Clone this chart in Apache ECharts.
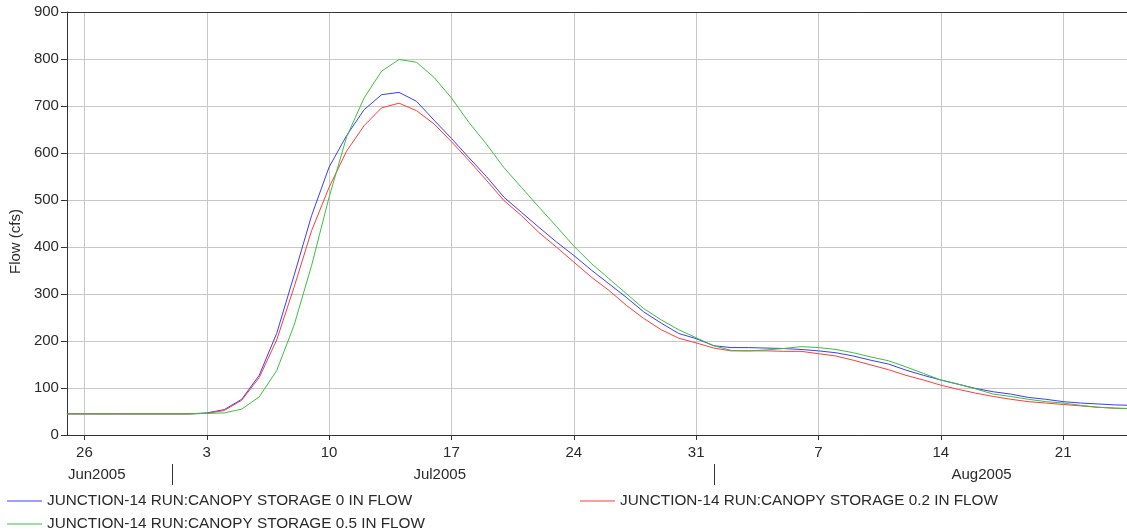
<!DOCTYPE html>
<html><head><meta charset="utf-8">
<script src="https://cdn.jsdelivr.net/npm/echarts@6/dist/echarts.min.js"></script>
<style>html,body{margin:0;padding:0;background:#fff}#c{width:1127px;height:531px}</style>
</head><body><div id="c"></div>
<script>
const dates = [
 '2005-06-25','2005-06-26','2005-06-27','2005-06-28','2005-06-29','2005-06-30',
 '2005-07-01','2005-07-02','2005-07-03','2005-07-04','2005-07-05','2005-07-06','2005-07-07','2005-07-08','2005-07-09','2005-07-10',
 '2005-07-11','2005-07-12','2005-07-13','2005-07-14','2005-07-15','2005-07-16','2005-07-17','2005-07-18','2005-07-19','2005-07-20',
 '2005-07-21','2005-07-22','2005-07-23','2005-07-24','2005-07-25','2005-07-26','2005-07-27','2005-07-28','2005-07-29','2005-07-30','2005-07-31',
 '2005-08-01','2005-08-02','2005-08-03','2005-08-04','2005-08-05','2005-08-06','2005-08-07','2005-08-08','2005-08-09','2005-08-10',
 '2005-08-11','2005-08-12','2005-08-13','2005-08-14','2005-08-15','2005-08-16','2005-08-17','2005-08-18','2005-08-19','2005-08-20',
 '2005-08-21','2005-08-22','2005-08-23','2005-08-24','2005-08-25'
];
const seriesNames = [
 'JUNCTION-14 RUN:CANOPY STORAGE 0 IN FLOW',
 'JUNCTION-14 RUN:CANOPY STORAGE 0.2 IN FLOW',
 'JUNCTION-14 RUN:CANOPY STORAGE 0.5 IN FLOW'
];
const flow0 = [45,45,45,45,45,45,45,45,47,54,76,127,216,340,467,570,637,692,724,729,710,670,631,590,550,506,474,442,411,382,351,322,293,262,238,216,205,
 190,186,186,185,184,182,179,175,168,159,151,138,127,117,108,99,92,87,80,76,71,68,66,64,63];
const flow02 = [45,45,45,45,45,45,45,45,46,52,74,122,202,315,435,527,604,658,696,706,690,662,624,584,542,499,467,431,400,368,336,308,276,248,224,206,196,
 185,179,179,179,178,178,173,168,159,149,139,127,117,106,97,89,82,76,71,68,65,62,59,57,56];
const flow05 = [45,45,45,45,45,45,45,45,46,47,55,81,137,234,361,506,634,717,774,799,793,761,717,665,619,569,527,485,444,402,365,333,301,269,245,224,207,
 190,180,179,181,184,188,186,182,175,166,158,145,131,117,108,98,87,82,76,71,68,63,59,57,56];
const weekTicks = ['2005-06-26','2005-07-03','2005-07-10','2005-07-17','2005-07-24','2005-07-31','2005-08-07','2005-08-14','2005-08-21'];
const monthLabels = ['Jun2005','Jul2005','Aug2005'];
const monthBounds = ['2005-06-01','2005-07-01','2005-08-01','2005-09-01'];
const seriesColors = ['#3c3cff','#ff3c3c','#3cc03c'];

const DAY = 86400000;
function ts(s){const p=s.split('-');return Date.UTC(+p[0],+p[1]-1,+p[2]);}
const T0 = ts(dates[0]);
function dayOf(s){return (ts(s)-T0)/DAY;}
const xMin = 0;
const xMax = 60.65;
const FONT = '"Liberation Sans", Arial, sans-serif';
const TXT = '#2a2a2a';

const flows = [flow0, flow02, flow05];
const series = flows.map((f,k)=>({
  name: seriesNames[k], type:'line', symbol:'none', showSymbol:false,
  data: dates.map((d,i)=>[dayOf(d), f[i]]),
  lineStyle:{width:1, color:seriesColors[k]}, itemStyle:{color:seriesColors[k]},
  animation:false, silent:true
}));

const legendBase = {orient:'horizontal', padding:0, icon:'rect', itemWidth:35, itemHeight:1, itemGap:10,
  textStyle:{fontFamily:FONT, fontSize:15.3, color:TXT, lineHeight:18}, selectedMode:false};

const tickVals = weekTicks.map(dayOf);
const option = {
  animation:false,
  grid:{left:66, top:12, right:0, bottom:96, containLabel:false},
  xAxis:[{
    type:'value', min:xMin, max:xMax,
    axisLine:{show:true, onZero:false, lineStyle:{color:'#333', width:1}},
    axisTick:{show:true, length:5, lineStyle:{color:'#333'}, customValues: tickVals},
    axisLabel:{show:true, margin:10, fontFamily:FONT, fontSize:15, color:TXT,
      customValues: tickVals,
      formatter:v=>{const d=new Date(T0+Math.round(v)*DAY);return String(d.getUTCDate());}},
    splitLine:{show:true, lineStyle:{color:'#c8c8c8', width:1}}
  },{
    type:'value', min:xMin, max:xMax, position:'top',
    axisLine:{show:true, onZero:false, lineStyle:{color:'#333', width:1}},
    axisTick:{show:false}, axisLabel:{show:false}, splitLine:{show:false}
  }],
  yAxis:{
    type:'value', min:0, max:900, interval:100,
    name:'Flow (cfs)', nameLocation:'middle', nameRotate:90, nameGap:43,
    nameTextStyle:{fontFamily:FONT, fontSize:15, color:TXT, padding:[0,36,0,0]},
    axisLine:{show:true, lineStyle:{color:'#333', width:1}},
    axisTick:{show:true, length:6, lineStyle:{color:'#333'}},
    axisLabel:{margin:8, fontFamily:FONT, fontSize:15, color:TXT},
    splitLine:{show:true, lineStyle:{color:'#c8c8c8', width:1}}
  },
  legend:[
    Object.assign({data:[seriesNames[0]], left:7, top:492}, legendBase),
    Object.assign({data:[seriesNames[1]], left:580, top:492}, legendBase),
    Object.assign({data:[seriesNames[2]], left:7, top:515}, legendBase)
  ],
  series: series
};

const chart = echarts.init(document.getElementById('c'), null, {renderer:'canvas'});
chart.setOption(option);

const baseY = chart.convertToPixel({yAxisIndex:0}, 0);
const leftX = chart.convertToPixel({xAxisIndex:0}, xMin);
const rightX = chart.convertToPixel({xAxisIndex:0}, xMax);
const g = [];
for (let i=0;i<monthLabels.length;i++){
  const xs = chart.convertToPixel({xAxisIndex:0}, dayOf(monthBounds[i]));
  const xe = chart.convertToPixel({xAxisIndex:0}, dayOf(monthBounds[i+1]));
  if (xs > leftX && xs < rightX) {
    const sx = Math.round(xs)+0.5;
    g.push({type:'line', silent:true, shape:{x1:sx, y1:baseY+29, x2:sx, y2:baseY+50}, style:{stroke:'#333', lineWidth:1}});
  }
  const left = xs < leftX;
  g.push({type:'text', silent:true, x: left ? leftX+1 : (xs+xe)/2 - 3, y: baseY+40,
    style:{text:monthLabels[i], font:'15px '+FONT, fill:TXT, align: left?'left':'center', verticalAlign:'middle'}});
}
chart.setOption({graphic:g});
</script>
</body></html>
